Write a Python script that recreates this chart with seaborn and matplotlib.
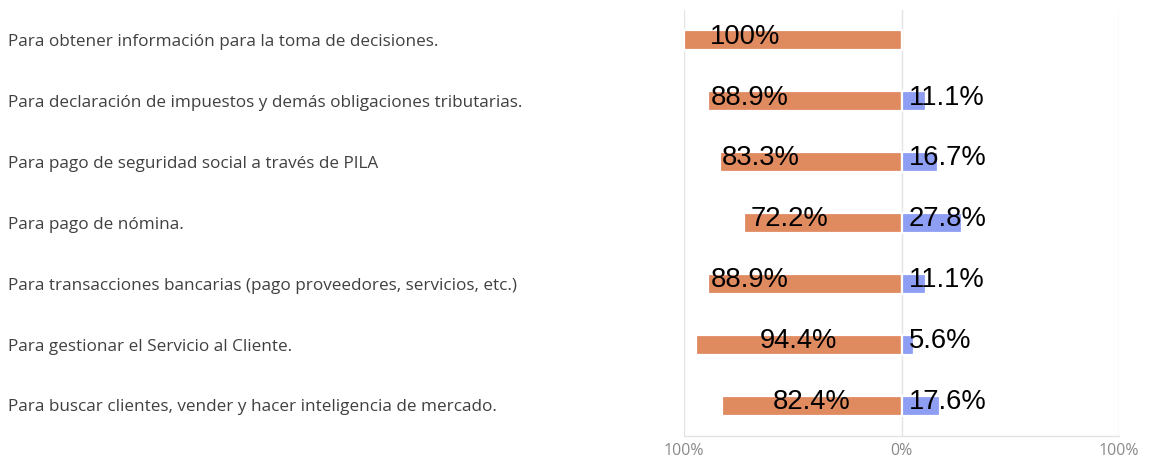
import matplotlib
matplotlib.use("Agg")
import matplotlib.pyplot as plt
import matplotlib.transforms as mtransforms
import seaborn as sns
import pandas as pd

categories = [
    "Para obtener información para la toma de decisiones.",
    "Para declaración de impuestos y demás obligaciones tributarias.",
    "Para pago de seguridad social a través de PILA",
    "Para pago de nómina.",
    "Para transacciones bancarias (pago proveedores, servicios, etc.)",
    "Para gestionar el Servicio al Cliente.",
    "Para buscar clientes, vender y hacer inteligencia de mercado.",
]
no_values = [100.0, 88.9, 83.3, 72.2, 88.9, 94.4, 82.4]   # orange, drawn to the left
yes_values = [0.0, 11.1, 16.7, 27.8, 11.1, 5.6, 17.6]     # blue, drawn to the right
tick_values = [-100, 0, 100]
tick_labels = ["100%", "0%", "100%"]

# label placement style for the orange values (alignment, shift in % units)
orange_label_style = [("left", 12), ("left", 1), ("left", 0.5), ("left", 3),
                      ("left", 1), ("center", 0), ("center", 0)]

ORANGE = "#E08A60"
BLUE = "#8E9EF2"

sns.set_theme(style="white")
plt.rcParams["font.family"] = ["Open Sans", "DejaVu Sans"]

df = pd.DataFrame({
    "category": categories * 2,
    "group": ["no"] * len(categories) + ["yes"] * len(categories),
    "value": [-v for v in no_values] + yes_values,
})

fig = plt.figure(figsize=(11.53, 4.59), dpi=100)
ax = fig.add_axes([684 / 1153, 23 / 459, 435 / 1153, 426 / 459])

sns.barplot(data=df, y="category", x="value", hue="group", orient="h",
            dodge=False, palette={"no": ORANGE, "yes": BLUE},
            width=0.33, ax=ax, legend=False, saturation=1,
            edgecolor="white", linewidth=1.6)

ax.set_xlim(-100, 100)
ax.set_ylim(len(categories) - 0.5, -0.5)
ax.set_xticks(tick_values)
ax.set_xticklabels(tick_labels, color="#8a8a8a", fontsize=11.5)
ax.tick_params(axis="x", length=0, pad=5)
ax.set_yticks([])
ax.set_xlabel("")
ax.set_ylabel("")
for x in tick_values:
    ax.axvline(x, color="#e3e3e3", lw=1.0, zorder=0)
for s in ["top", "left", "right"]:
    ax.spines[s].set_visible(False)
ax.spines["bottom"].set_color("#e3e3e3")
ax.spines["bottom"].set_linewidth(1.0)

# category labels on the left side of the figure
blend = mtransforms.blended_transform_factory(fig.transFigure, ax.transData)
for i, cat in enumerate(categories):
    ax.text(8 / 1153, i + 0.03, cat, transform=blend, ha="left", va="center",
            fontsize=12.3, color="#404040", clip_on=False)

# value labels
vfont = dict(fontsize=19.7, color="black", family=["Liberation Sans", "DejaVu Sans"])
for i, (nv, yv) in enumerate(zip(no_values, yes_values)):
    ha, shift = orange_label_style[i]
    if ha == "left":
        x = -nv + shift
    else:
        x = -nv / 2
    ax.text(x, i - 0.06, f"{nv:g}%", ha=ha, va="center", **vfont)
    if yv > 0:
        ax.text(3.4, i - 0.06, f"{yv:g}%", ha="left", va="center", **vfont)

fig.savefig("out.png", dpi=100)
